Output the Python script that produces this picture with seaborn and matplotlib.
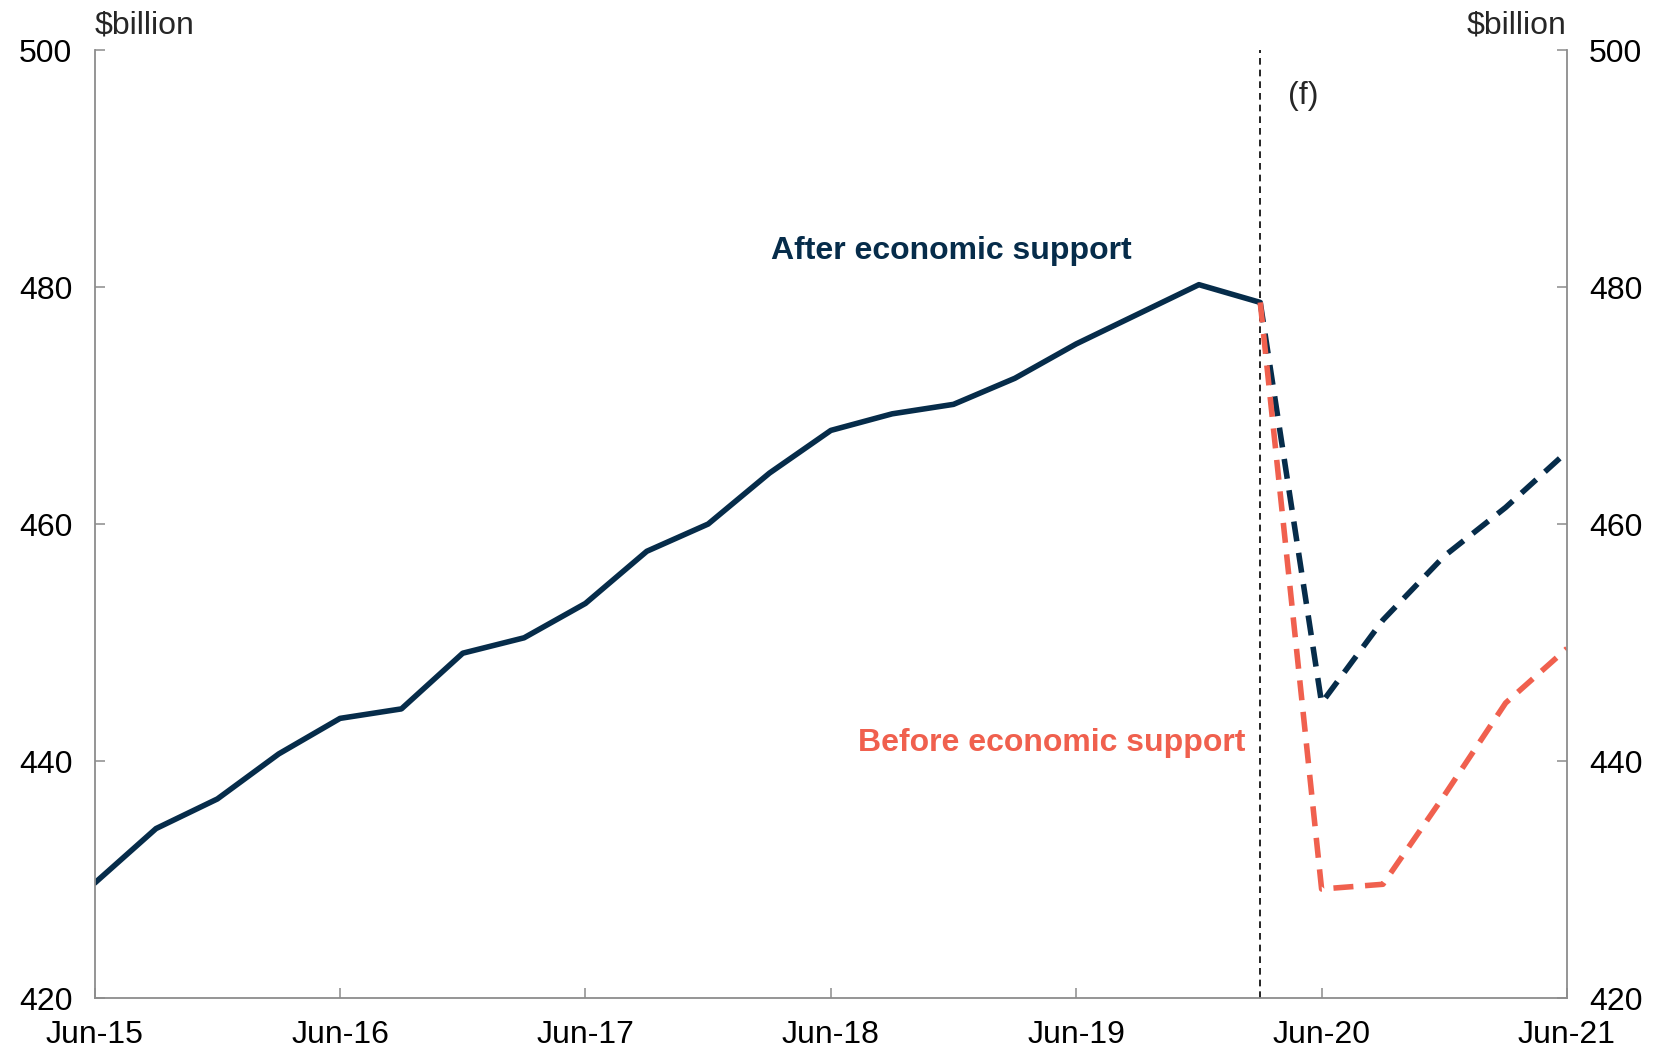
import matplotlib
matplotlib.use("Agg")
import matplotlib.pyplot as plt
import seaborn as sns
import pandas as pd

# ---- data ----
quarters = ["Jun-15", "Sep-15", "Dec-15", "Mar-16", "Jun-16", "Sep-16", "Dec-16", "Mar-17",
            "Jun-17", "Sep-17", "Dec-17", "Mar-18", "Jun-18", "Sep-18", "Dec-18", "Mar-19",
            "Jun-19", "Sep-19", "Dec-19", "Mar-20", "Jun-20", "Sep-20", "Dec-20", "Mar-21", "Jun-21"]
actual = [429.7, 434.3, 436.8, 440.6, 443.6, 444.4, 449.1, 450.4, 453.3, 457.7,
          460.0, 464.3, 467.9, 469.3, 470.1, 472.3, 475.2, 477.7, 480.2, 478.7]
after_support = [478.7, 444.9, 451.9, 457.3, 461.4, 466.1]
before_support = [478.7, 429.2, 429.6, 437.1, 444.9, 449.5]
tick_labels = ["Jun-15", "Jun-16", "Jun-17", "Jun-18", "Jun-19", "Jun-20", "Jun-21"]
y_ticks = [420, 440, 460, 480, 500]

NAVY = "#062C4A"
CORAL = "#F0604E"
GREY = "#8C8C8C"
FS = 23

sns.set_theme(style="white")
plt.rcParams["font.family"] = ["Liberation Sans", "DejaVu Sans"]

idx = list(range(len(quarters)))
df_actual = pd.DataFrame({"q": idx[:len(actual)], "v": actual})
start = len(actual) - 1
df_after = pd.DataFrame({"q": idx[start:start + len(after_support)], "v": after_support})
df_before = pd.DataFrame({"q": idx[start:start + len(before_support)], "v": before_support})

fig = plt.figure(figsize=(16.67, 10.51), dpi=100)
ax = fig.add_axes([0.0568, 0.0504, 0.8832, 0.902])

lw = 4.0
sns.lineplot(data=df_actual, x="q", y="v", ax=ax, color=NAVY, linewidth=lw)
sns.lineplot(data=df_after, x="q", y="v", ax=ax, color=NAVY, linewidth=lw,
             linestyle=(0, (3.6, 2.1)))
sns.lineplot(data=df_before, x="q", y="v", ax=ax, color=CORAL, linewidth=lw,
             linestyle=(0, (3.6, 2.1)))

ax.axvline(start, color="black", linewidth=1.2, linestyle=(0, (4, 3)), zorder=1)

ax.set_xlim(0, len(quarters) - 1)
ax.set_ylim(420, 500)
ax.set_xticks(idx[::4])
ax.set_xticklabels(tick_labels)
ax.set_yticks(y_ticks)
ax.set_xlabel("")
ax.set_ylabel("")

for s in ["left", "right", "bottom"]:
    ax.spines[s].set_visible(True)
    ax.spines[s].set_color(GREY)
    ax.spines[s].set_linewidth(1.3)
ax.spines["top"].set_visible(False)

ax.tick_params(axis="x", direction="in", length=7, width=1.1, color=GREY,
               labelsize=FS, pad=16, bottom=True)
ax.tick_params(axis="y", direction="in", length=7, width=1.1, color=GREY,
               labelsize=FS, pad=16, left=True, right=True, labelright=True)
for lab in ax.get_xticklabels() + ax.get_yticklabels():
    lab.set_color("black")

ax.text(0, 1.01, "$billion", transform=ax.transAxes, ha="left", va="bottom", fontsize=FS)
ax.text(1, 1.01, "$billion", transform=ax.transAxes, ha="right", va="bottom", fontsize=FS)

ax.text(19.7, 496.1, "(f)", ha="center", va="center", fontsize=FS)
ax.text(13.97, 483.0, "After economic support", ha="center", va="center",
        fontsize=FS, fontweight="bold", color=NAVY)
ax.text(15.6, 441.5, "Before economic support", ha="center", va="center",
        fontsize=FS, fontweight="bold", color=CORAL)

fig.savefig("out.png", dpi=100)
